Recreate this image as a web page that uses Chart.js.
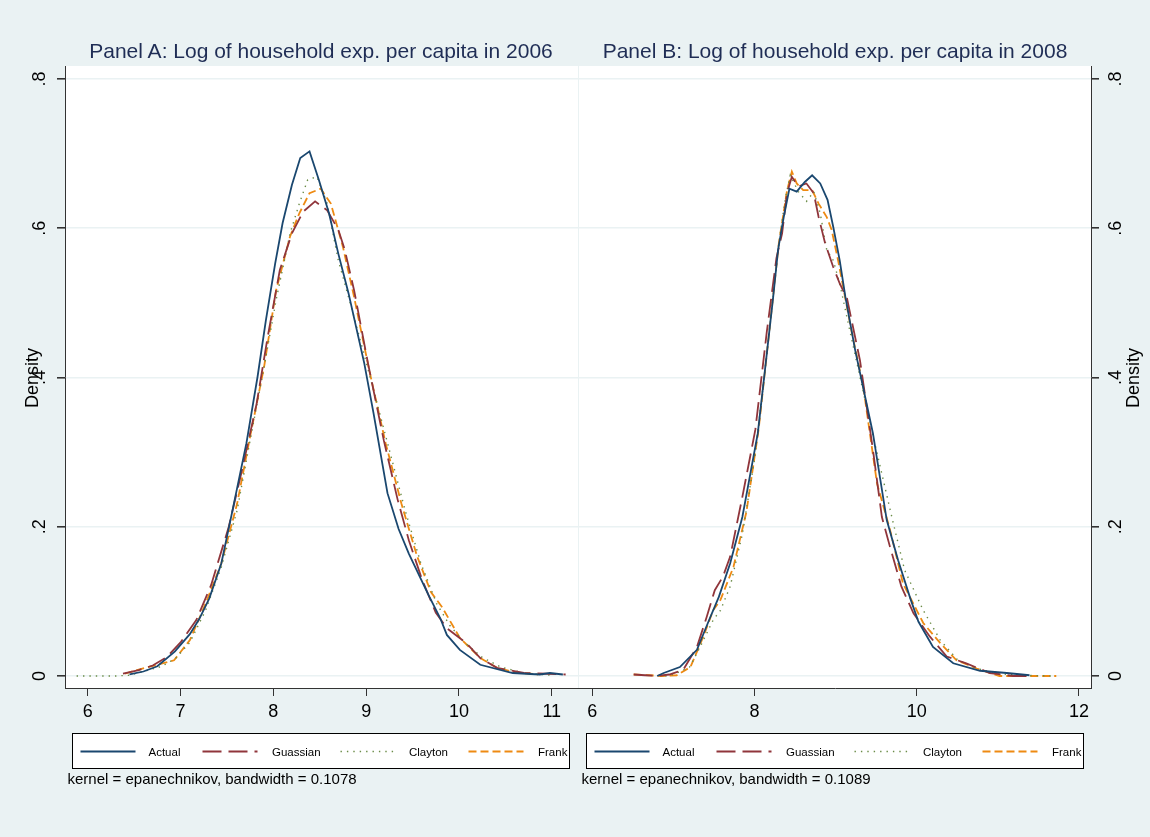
<!DOCTYPE html>
<html>
<head>
<meta charset="utf-8">
<title>Kernel densities of log household expenditure</title>
<script src="https://cdn.jsdelivr.net/npm/chart.js@4.4.0/dist/chart.umd.min.js"></script>
<style>
  html, body { margin: 0; padding: 0; }
  body {
    width: 1150px; height: 837px; overflow: hidden; position: relative;
    background: #eaf2f3;
    font-family: "Liberation Sans", Arial, sans-serif;
  }
  canvas.panel { position: absolute; left: 0; top: 0; }
  svg.overlay { position: absolute; left: 0; top: 0; pointer-events: none; }
</style>
</head>
<body>
<canvas id="panelA" class="panel" width="1150" height="837"></canvas>
<canvas id="panelB" class="panel" width="1150" height="837"></canvas>
<svg id="overlay" class="overlay" width="1150" height="837"></svg>

<script>
// ---- Panel A: 2006 ----
const aActualX = [6.45, 6.6, 6.75, 6.94, 7.1, 7.2, 7.31, 7.44, 7.56, 7.71, 7.83, 7.92, 8.02, 8.10, 8.20, 8.29, 8.39, 8.49, 8.60, 8.70, 8.81, 8.98, 9.08, 9.23, 9.35, 9.46, 9.67, 9.80, 9.87, 10.01, 10.23, 10.58, 10.87, 10.98, 11.12];
const aActualY = [0.002, 0.006, 0.013, 0.033, 0.056, 0.076, 0.104, 0.151, 0.222, 0.312, 0.401, 0.477, 0.553, 0.607, 0.658, 0.694, 0.703, 0.665, 0.620, 0.566, 0.513, 0.419, 0.352, 0.245, 0.197, 0.164, 0.109, 0.077, 0.055, 0.035, 0.015, 0.004, 0.002, 0.004, 0.002];

const aGaussX = [6.38, 6.55, 6.7, 6.85, 7.0, 7.17, 7.33, 7.52, 7.67, 7.82, 7.94, 8.07, 8.20, 8.32, 8.45, 8.58, 8.70, 8.77, 8.87, 9.02, 9.19, 9.34, 9.46, 9.60, 9.75, 9.87, 10.08, 10.23, 10.41, 10.7, 10.95, 11.15];
const aGaussY = [0.003, 0.008, 0.014, 0.025, 0.045, 0.075, 0.122, 0.200, 0.280, 0.365, 0.455, 0.544, 0.593, 0.622, 0.636, 0.624, 0.598, 0.571, 0.517, 0.419, 0.316, 0.236, 0.182, 0.130, 0.085, 0.064, 0.044, 0.024, 0.011, 0.004, 0.003, 0.002];

const aClaytonX = [5.88, 6.1, 6.3, 6.45, 6.6, 6.8, 6.95, 7.1, 7.27, 7.44, 7.61, 7.75, 7.90, 8.03, 8.18, 8.28, 8.37, 8.47, 8.58, 8.70, 8.87, 9.08, 9.25, 9.42, 9.59, 9.76, 9.9, 10.05, 10.25, 10.45, 10.7, 11.0];
const aClaytonY = [0.0, 0.0, 0.0, 0.001, 0.006, 0.013, 0.024, 0.045, 0.088, 0.146, 0.222, 0.316, 0.414, 0.504, 0.593, 0.633, 0.665, 0.669, 0.633, 0.557, 0.481, 0.383, 0.303, 0.222, 0.151, 0.097, 0.068, 0.046, 0.025, 0.012, 0.004, 0.001];

const aFrankX = [6.4, 6.53, 6.75, 6.93, 7.10, 7.27, 7.44, 7.61, 7.75, 7.90, 8.03, 8.18, 8.28, 8.39, 8.51, 8.62, 8.75, 8.87, 9.04, 9.21, 9.38, 9.55, 9.70, 9.82, 10.01, 10.23, 10.41, 10.6, 10.85];
const aFrankY = [0.003, 0.008, 0.015, 0.021, 0.048, 0.097, 0.151, 0.231, 0.321, 0.414, 0.517, 0.589, 0.620, 0.647, 0.653, 0.633, 0.575, 0.508, 0.406, 0.312, 0.231, 0.160, 0.112, 0.092, 0.051, 0.024, 0.011, 0.005, 0.002];

// ---- Panel B: 2008 ----
const bActualX = [6.80, 6.88, 7.08, 7.29, 7.44, 7.56, 7.70, 7.85, 8.04, 8.11, 8.23, 8.29, 8.36, 8.43, 8.52, 8.62, 8.71, 8.81, 8.90, 8.97, 9.05, 9.12, 9.24, 9.46, 9.63, 9.77, 9.92, 10.02, 10.20, 10.45, 10.78, 11.11, 11.39];
const bActualY = [0.0, 0.004, 0.012, 0.035, 0.075, 0.106, 0.151, 0.213, 0.325, 0.392, 0.508, 0.571, 0.615, 0.653, 0.649, 0.662, 0.671, 0.660, 0.638, 0.602, 0.557, 0.508, 0.437, 0.325, 0.209, 0.155, 0.104, 0.073, 0.039, 0.017, 0.007, 0.004, 0.001];

const bGaussX = [6.51, 6.65, 6.8, 6.95, 7.12, 7.29, 7.41, 7.51, 7.61, 7.70, 7.85, 8.01, 8.15, 8.27, 8.34, 8.40, 8.46, 8.54, 8.64, 8.73, 8.79, 8.87, 8.97, 9.05, 9.14, 9.30, 9.46, 9.57, 9.67, 9.81, 9.96, 10.16, 10.37, 10.61, 10.90, 11.19, 11.43];
const bGaussY = [0.002, 0.001, 0.0, 0.002, 0.008, 0.039, 0.079, 0.115, 0.133, 0.160, 0.240, 0.330, 0.460, 0.560, 0.593, 0.647, 0.669, 0.656, 0.660, 0.647, 0.615, 0.580, 0.548, 0.526, 0.506, 0.423, 0.303, 0.213, 0.173, 0.120, 0.084, 0.053, 0.026, 0.017, 0.004, 0.0, 0.0];

const bClaytonX = [6.9, 7.0, 7.2, 7.33, 7.49, 7.58, 7.70, 7.85, 8.0, 8.15, 8.3, 8.38, 8.44, 8.54, 8.64, 8.73, 8.81, 8.89, 8.97, 9.05, 9.2, 9.38, 9.55, 9.71, 9.85, 10.08, 10.29, 10.5, 10.74, 11.0, 11.3, 11.68];
const bClaytonY = [0.0, 0.002, 0.012, 0.039, 0.075, 0.088, 0.120, 0.190, 0.290, 0.430, 0.580, 0.640, 0.671, 0.649, 0.636, 0.649, 0.620, 0.571, 0.557, 0.526, 0.450, 0.361, 0.280, 0.205, 0.142, 0.088, 0.048, 0.022, 0.010, 0.003, 0.001, 0.0];

const bFrankX = [6.51, 6.7, 6.85, 7.04, 7.21, 7.37, 7.49, 7.58, 7.74, 7.9, 8.05, 8.2, 8.3, 8.4, 8.46, 8.52, 8.60, 8.71, 8.79, 8.89, 8.95, 9.03, 9.10, 9.20, 9.34, 9.51, 9.67, 9.83, 10.08, 10.29, 10.49, 10.74, 11.02, 11.4, 11.72];
const bFrankY = [0.002, 0.001, 0.0, 0.001, 0.012, 0.053, 0.088, 0.102, 0.146, 0.220, 0.330, 0.480, 0.580, 0.650, 0.676, 0.660, 0.651, 0.651, 0.633, 0.615, 0.598, 0.557, 0.517, 0.460, 0.388, 0.258, 0.196, 0.124, 0.071, 0.044, 0.021, 0.010, 0.0, 0.0, 0.0];

// ---- axes / labels ----
const aXTicks = [6, 7, 8, 9, 10, 11];
const bXTicks = [6, 8, 10, 12];
const yTicks = [0, 0.2, 0.4, 0.6, 0.8];
const yTickLabels = ['0', '.2', '.4', '.6', '.8'];
const seriesNames = ['Actual', 'Guassian', 'Clayton', 'Frank'];
const panelTitles = ['Panel A: Log of household exp. per capita in 2006', 'Panel B: Log of household exp. per capita in 2008'];
const panelNotes = ['kernel = epanechnikov, bandwidth = 0.1078', 'kernel = epanechnikov, bandwidth = 0.1089'];

const FONT = '"Liberation Sans", Arial, sans-serif';
const lineStyles = [
    { color: '#1a476f', width: 1.8, dash: [] },
    { color: '#90353b', width: 1.8, dash: [19, 7] },
    { color: '#6b8c47', width: 1.4, dash: [1.4, 5] },
    { color: '#ee8a12', width: 1.8, dash: [8, 4] }
];

function toPoints(xs, ys) {
    return xs.map((x, i) => ({ x: x, y: ys[i] }));
}

function makeDatasets(series) {
    return series.map((s, i) => ({
        label: seriesNames[i],
        data: toPoints(s[0], s[1]),
        borderColor: lineStyles[i].color,
        borderWidth: lineStyles[i].width,
        borderDash: lineStyles[i].dash,
        borderCapStyle: 'butt',
        pointRadius: 0,
        tension: 0,
        fill: false
    }));
}

// white plot region behind grid and lines
const plotBg = {
    id: 'plotBg',
    beforeDraw(chart) {
        const a = chart.chartArea, ctx = chart.ctx;
        ctx.save();
        ctx.fillStyle = '#ffffff';
        ctx.fillRect(a.left, a.top, a.right - a.left, a.bottom - a.top);
        ctx.restore();
    }
};

// rotated y tick labels and y title, placed from the y scale
const yLabels = {
    id: 'yLabels',
    afterDraw(chart, args, opts) {
        const ys = chart.scales.y, ctx = chart.ctx;
        ctx.save();
        ctx.fillStyle = '#000';
        ctx.textAlign = 'center';
        ctx.textBaseline = 'middle';
        ctx.font = '18px ' + FONT;
        yTicks.forEach((v, i) => {
            ctx.save();
            ctx.translate(opts.tickX, ys.getPixelForValue(v));
            ctx.rotate(-Math.PI / 2);
            ctx.fillText(yTickLabels[i], 0, 0);
            ctx.restore();
        });
        ctx.translate(opts.titleX, (ys.top + ys.bottom) / 2 + 1);
        ctx.rotate(-Math.PI / 2);
        ctx.font = '18px ' + FONT;
        ctx.fillText('Density', 0, 0);
        ctx.restore();
    }
};

function makePanel(id, p) {
    return new Chart(document.getElementById(id), {
        type: 'line',
        data: { datasets: makeDatasets(p.series) },
        options: {
            responsive: false,
            animation: false,
            events: [],
            layout: { padding: { left: p.padLeft, right: p.padRight, top: 66, bottom: 109 } },
            plugins: {
                legend: { display: false },
                tooltip: { enabled: false },
                yLabels: { tickX: p.tickX, titleX: p.titleX }
            },
            scales: {
                x: {
                    type: 'linear',
                    min: p.xMin,
                    max: p.xMax,
                    afterBuildTicks: s => { s.ticks = p.xTicks.map(v => ({ value: v })); },
                    afterFit: s => { s.height = 40; },
                    grid: { color: 'rgba(0,0,0,0)', tickColor: '#333', tickLength: 8 },
                    border: { color: '#333', width: 1 },
                    ticks: {
                        color: '#000',
                        font: { size: 18, family: FONT },
                        padding: 5,
                        maxRotation: 0,
                        autoSkip: false,
                        callback: v => String(v)
                    }
                },
                y: {
                    type: 'linear',
                    position: p.yPos,
                    min: -0.0161,
                    max: 0.8174,
                    afterBuildTicks: s => { s.ticks = yTicks.map(v => ({ value: v })); },
                    afterFit: s => { s.width = p.yWidth; },
                    grid: { color: '#eaf2f3', lineWidth: 1.6, tickColor: '#333', tickLength: 8 },
                    border: { color: '#333', width: 1 },
                    ticks: { display: false }
                }
            }
        },
        plugins: [plotBg, yLabels]
    });
}

makePanel('panelA', {
    series: [[aActualX, aActualY], [aGaussX, aGaussY], [aClaytonX, aClaytonY], [aFrankX, aFrankY]],
    xMin: 5.755, xMax: 11.283, xTicks: aXTicks,
    yPos: 'left', yWidth: 65, padLeft: 0, padRight: 572,
    tickX: 40, titleX: 33
});

makePanel('panelB', {
    series: [[bActualX, bActualY], [bGaussX, bGaussY], [bClaytonX, bClaytonY], [bFrankX, bFrankY]],
    xMin: 5.836, xMax: 12.148, xTicks: bXTicks,
    yPos: 'right', yWidth: 59, padLeft: 579, padRight: 0,
    tickX: 1116, titleX: 1134
});

// titles, legends and notes as svg text
function buildOverlay() {
    const svg = document.getElementById('overlay');
    const NS = 'http://www.w3.org/2000/svg';
    function add(tag, attrs, text) {
        const el = document.createElementNS(NS, tag);
        Object.keys(attrs).forEach(k => el.setAttribute(k, attrs[k]));
        if (text !== undefined) el.textContent = text;
        svg.appendChild(el);
        return el;
    }
    const titleCenters = [321, 835];
    const legendLefts = [72.5, 586.5];
    const sampleOffsets = [8, 130, 268, 396];
    const labelOffsets = [76, 199.5, 336.5, 465.5];

    for (let p = 0; p < 2; p++) {
        add('text', { x: titleCenters[p], y: 58, 'text-anchor': 'middle', 'font-size': 21,
            'font-family': FONT, fill: '#1f2d55' }, panelTitles[p]);

        const L = legendLefts[p];
        add('rect', { x: L, y: 733.5, width: 497, height: 35, fill: '#fff', stroke: '#000', 'stroke-width': 1 });
        seriesNames.forEach((name, i) => {
            const st = lineStyles[i];
            add('line', { x1: L + sampleOffsets[i], x2: L + sampleOffsets[i] + 55, y1: 751.5, y2: 751.5,
                stroke: st.color, 'stroke-width': st.width,
                'stroke-dasharray': st.dash.length ? st.dash.join(' ') : 'none' });
            add('text', { x: L + labelOffsets[i], y: 755.5, 'font-size': 11.5, 'font-family': FONT, fill: '#000' }, name);
        });

        add('text', { x: L - 5, y: 784, 'font-size': 15, 'font-family': FONT, fill: '#000' }, panelNotes[p]);
    }
}
buildOverlay();
</script>
</body>
</html>
